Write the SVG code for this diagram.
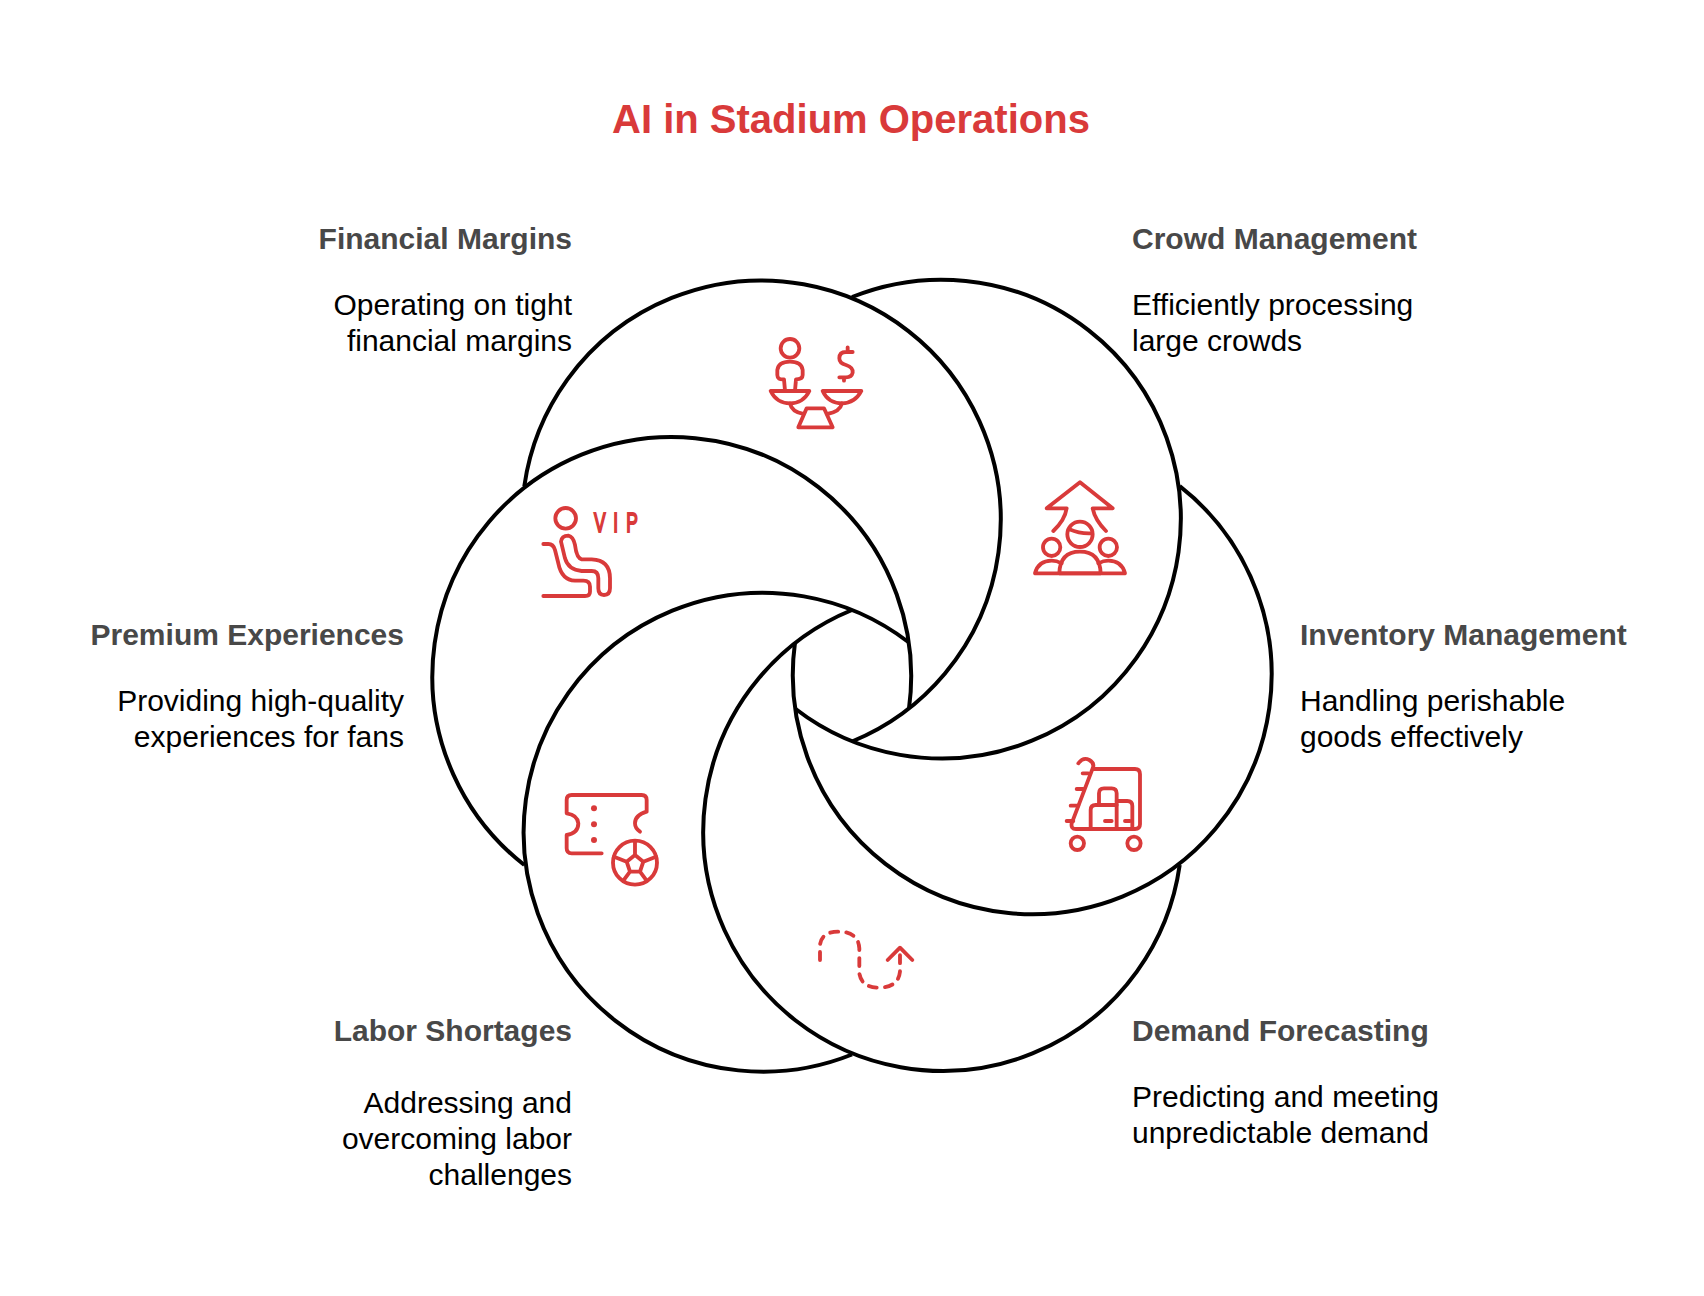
<svg xmlns="http://www.w3.org/2000/svg" width="1704" height="1296" viewBox="0 0 1704 1296">
<style>
text{font-family:"Liberation Sans",Arial,sans-serif}
.t{font-size:40px;font-weight:700;fill:#d93a3a;text-anchor:middle}
.h{font-size:30px;font-weight:700;fill:#484848}
.d{font-size:30px;fill:#000}
.e{text-anchor:end}
.arc{fill:none;stroke:#000;stroke-width:4}
.i{fill:none;stroke:#d93a3a;stroke-width:11.5;stroke-linecap:round;stroke-linejoin:round}
.f{fill:#d93a3a;stroke:none}
</style>
<rect width="1704" height="1296" fill="#fff"/>
<text class="t" x="851" y="133">AI in Stadium Operations</text>
<g id="connectors">
<path class="arc" d="M1179.7 486.2A239.4 239.4 0 1 1 795 642.5"/>
<path class="arc" d="M1179.7 865A239.4 239.4 0 1 1 852 610"/>
<path class="arc" d="M852 1054.5A239.4 239.4 0 1 1 909 642.5"/>
<path class="arc" d="M524.3 865A239.4 239.4 0 1 1 909 708.5"/>
<path class="arc" d="M524.3 486.2A239.4 239.4 0 1 1 852 741.5"/>
<path class="arc" d="M852 297A239.4 239.4 0 1 1 795 708.5"/>
</g>
<g id="financial-margins">
<text class="h e" x="572" y="249">Financial Margins</text>
<text class="d e" x="572" y="315">Operating on tight</text>
<text class="d e" x="572" y="351">financial margins</text>
<g class="i" transform="translate(740 320) scale(.3333)">
<circle cx="150" cy="85" r="28"/>
<path d="M135 212L132 178Q112 180 112 165V150Q115 125 150 125Q185 125 188 150V165Q188 178 168 178L165 212"/>
<path d="M92 213H208Q190 250 150 250Q110 250 92 213ZM248 213H364Q345 250 306 250Q265 250 248 213Z"/>
<path d="M150 250Q155 275 190 282M306 250Q300 275 262 282"/>
<path d="M200 265H252L278 322H175Z"/>
<path d="M338 96H318Q298 96 298 115Q298 130 318 135Q340 142 338 158Q335 172 318 172H298M323 82V96M312 172V182"/>
</g>
</g>
<g id="crowd-management">
<text class="h" x="1132" y="249">Crowd Management</text>
<text class="d" x="1132" y="315">Efficiently processing</text>
<text class="d" x="1132" y="351">large crowds</text>
<g class="i" transform="translate(1010 470) scale(.3333)">
<path d="M130 183Q165 150 170 115H110L210 37L308 115H248Q255 150 288 183"/>
<circle cx="210" cy="193" r="38"/>
<path d="M178 178Q210 192 245 190"/>
<circle cx="125" cy="232" r="26"/>
<circle cx="295" cy="232" r="26"/>
<path d="M148 310Q150 245 210 245Q270 245 272 310Z"/>
<path d="M75 310Q85 272 125 272Q140 272 155 280M345 310Q335 272 295 272Q280 272 265 280M75 310H345"/>
</g>
</g>
<g id="inventory-management">
<text class="h" x="1300" y="645">Inventory Management</text>
<text class="d" x="1300" y="711">Handling perishable</text>
<text class="d" x="1300" y="747">goods effectively</text>
<g class="i" transform="translate(1050 745) scale(.3333)">
<path d="M85 55Q100 35 118 45Q135 55 128 70L65 235Q62 252 78 252H255Q270 252 270 238V88Q270 72 255 72H130"/>
<path d="M98 85H115M80 132H100M62 182H85M50 228H70"/>
<circle cx="82" cy="295" r="20"/>
<circle cx="252" cy="295" r="20"/>
<path d="M122 250V195Q122 180 137 180H200M200 168H232Q247 168 247 183V250"/>
<path d="M147 180V145Q147 130 162 130H185Q200 130 200 145V250"/>
<path d="M165 228H185M225 228H240"/>
</g>
</g>
<g id="demand-forecasting">
<text class="h" x="1132" y="1041">Demand Forecasting</text>
<text class="d" x="1132" y="1107">Predicting and meeting</text>
<text class="d" x="1132" y="1143">unpredictable demand</text>
<g class="i" transform="translate(800 915) scale(.3333)">
<path stroke-dasharray="24 24" d="M60 135V90Q65 50 115 50Q175 50 178 100V175Q185 218 235 218Q295 218 300 170V100"/>
<path d="M263 135L300 98L337 135"/>
</g>
</g>
<g id="labor-shortages">
<text class="h e" x="572" y="1041">Labor Shortages</text>
<text class="d e" x="572" y="1113">Addressing and</text>
<text class="d e" x="572" y="1149">overcoming labor</text>
<text class="d e" x="572" y="1185">challenges</text>
<g class="i" transform="translate(555 780) scale(.3333)">
<path d="M140 220H50Q35 220 35 205V165Q70 160 70 130Q68 105 35 100V60Q35 45 50 45H260Q275 45 275 60V95Q240 105 240 130Q240 145 255 155"/>
<circle class="f" cx="117" cy="85" r="9"/>
<circle class="f" cx="117" cy="133" r="9"/>
<circle class="f" cx="117" cy="180" r="9"/>
<circle cx="240" cy="248" r="66"/>
<path d="M240 225L265 245L255 275H225L215 245ZM240 225V185M265 245L303 230M255 275L275 302M225 275L205 302M215 245L177 230"/>
</g>
</g>
<g id="premium-experiences">
<text class="h e" x="404" y="645">Premium Experiences</text>
<text class="d e" x="404" y="711">Providing high-quality</text>
<text class="d e" x="404" y="747">experiences for fans</text>
<g class="i" transform="translate(530 495) scale(.3333)">
<circle cx="107" cy="70" r="31"/>
<path d="M40 147H55Q70 147 75 165L85 205Q95 255 135 257H160Q180 257 180 275V290Q180 303 165 303H40"/>
<path d="M93 140Q95 122 115 122Q130 125 135 150Q140 190 155 193H185Q240 195 240 250V280Q240 300 222 300Q205 300 205 280V250Q205 228 185 228H155Q115 225 105 190Z"/>
</g>
<text transform="translate(594 532) scale(.62 1)" x="0 31 52" y="0" font-size="28" fill="#d93a3a" stroke="#d93a3a" stroke-width="2">VIP</text>
</g>
</svg>
